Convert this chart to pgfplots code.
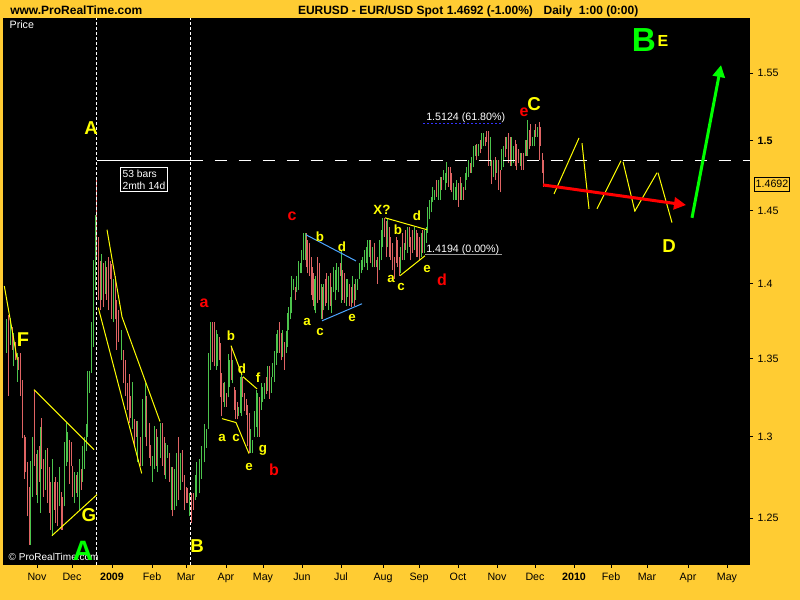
\documentclass[border=0pt]{standalone}
\usepackage{pgfplots}
\pgfplotsset{compat=1.18}
\usepackage{fontspec}
\setmainfont{Liberation Sans}
\usetikzlibrary{arrows.meta}
\definecolor{bgor}{HTML}{FFCC33}
\definecolor{barg}{HTML}{4CC44C}
\definecolor{barr}{HTML}{E06464}
\definecolor{ylw}{HTML}{FFFF00}
\definecolor{grn}{HTML}{00FF00}
\definecolor{rd}{HTML}{FF0000}
\definecolor{lblue}{HTML}{4DA6FF}
\definecolor{dblue}{HTML}{3333FF}
\newcommand{\fs}[1]{\fontsize{#1}{#1}\selectfont}
\begin{document}
\begin{tikzpicture}
\path[use as bounding box] (0,0) rectangle (600pt,450pt);
\fill[bgor] (0,0) rectangle (600pt,450pt);
\begin{axis}[
  at={(2.25pt,26.25pt)}, anchor=south west,
  scale only axis, width=560.25pt, height=410.25pt,
  xmin=3, xmax=750, ymode=log, ymin=1.2219, ymax=1.5917,
  axis background/.style={fill=black},
  axis x line*=bottom, axis y line*=right,
  axis line style={draw=none},
  tick align=outside, major tick length=2.25pt,
  tick style={black, line width=0.6pt},
  xtick={37,72,112,152,186,226,263,302,341,383,419,458,497,535,574,611,647,688,727},
  xticklabels={Nov,Dec,\textbf{2009},Feb,Mar,Apr,May,Jun,Jul,Aug,Sep,Oct,Nov,Dec,\textbf{2010},Feb,Mar,Apr,May},
  ytick={1.25,1.3,1.35,1.4,1.45,1.5,1.55},
  yticklabels={1.25,1.3,1.35,1.4,1.45,\textbf{1.5},1.55},
  minor tick num=0, yminorticks=false, xminorticks=false,
  ticklabel style={font=\fs{8}, black},
  yticklabel style={anchor=west},
  /pgf/number format/assume math mode=true,
  unbounded coords=jump,
]
% green (up) bars
\addplot[barg, line width=0.75pt] coordinates {
(6,1.354)(6,1.376)(6,nan) (10.7,1.359)(10.7,1.377)(10.7,nan) (13.3,1.345)(13.3,1.367)(13.3,nan)
(17.3,1.335)(17.3,1.354)(17.3,nan) (30.7,1.234)(30.7,1.285)(30.7,nan) (32.3,1.263)(32.3,1.300)(32.3,nan)
(37.7,1.259)(37.7,1.292)(37.7,nan) (40.7,1.253)(40.7,1.306)(40.7,nan) (45.3,1.267)(45.3,1.292)(45.3,nan)
(52.3,1.239)(52.3,1.286)(52.3,nan) (59.3,1.257)(59.3,1.281)(59.3,nan) (64.3,1.257)(64.3,1.297)(64.3,nan)
(66,1.282)(66,1.309)(66,nan) (67.7,1.284)(67.7,1.303)(67.7,nan) (74.3,1.259)(74.3,1.278)(74.3,nan)
(77.7,1.263)(77.7,1.278)(77.7,nan) (79.3,1.255)(79.3,1.286)(79.3,nan) (82.7,1.272)(82.7,1.294)(82.7,nan)
(84.3,1.280)(84.3,1.300)(84.3,nan) (86,1.291)(86,1.308)(86,nan) (87.3,1.300)(87.3,1.342)(87.3,nan)
(89.3,1.328)(89.3,1.342)(89.3,nan) (91,1.341)(91,1.374)(91,nan) (93.3,1.358)(93.3,1.416)(93.3,nan)
(95,1.396)(95,1.447)(95,nan) (101.7,1.389)(101.7,1.420)(101.7,nan) (105,1.393)(105,1.415)(105,nan)
(113.3,1.374)(113.3,1.403)(113.3,nan) (121.7,1.349)(121.7,1.369)(121.7,nan) (132.7,1.305)(132.7,1.335)(132.7,nan)
(137.7,1.284)(137.7,1.310)(137.7,nan) (142.7,1.282)(142.7,1.324)(142.7,nan) (145,1.300)(145,1.334)(145,nan)
(152,1.272)(152,1.288)(152,nan) (154,1.280)(154,1.307)(154,nan) (157.7,1.278)(157.7,1.300)(157.7,nan)
(160,1.287)(160,1.309)(160,nan) (165.7,1.274)(165.7,1.296)(165.7,nan) (167.3,1.287)(167.3,1.295)(167.3,nan)
(171,1.255)(171,1.281)(171,nan) (174.3,1.255)(174.3,1.280)(174.3,nan) (176,1.257)(176,1.290)(176,nan)
(180.7,1.267)(180.7,1.290)(180.7,nan) (189.3,1.251)(189.3,1.265)(189.3,nan) (195,1.261)(195,1.276)(195,nan)
(196.7,1.263)(196.7,1.284)(196.7,nan) (199,1.265)(199,1.286)(199,nan) (201.7,1.274)(201.7,1.294)(201.7,nan)
(204,1.284)(204,1.308)(204,nan) (206,1.293)(206,1.305)(206,nan) (208.3,1.305)(208.3,1.354)(208.3,nan)
(210.3,1.343)(210.3,1.374)(210.3,nan) (216,1.343)(216,1.369)(216,nan) (217.3,1.345)(217.3,1.366)(217.3,nan)
(224.3,1.319)(224.3,1.335)(224.3,nan) (228.3,1.325)(228.3,1.353)(228.3,nan) (229.3,1.332)(229.3,1.349)(229.3,nan)
(232.7,1.334)(232.7,1.349)(232.7,nan) (238.3,1.313)(238.3,1.319)(238.3,nan) (240,1.315)(240,1.338)(240,nan)
(241.7,1.313)(241.7,1.341)(241.7,nan) (250.7,1.290)(250.7,1.305)(250.7,nan) (252.3,1.290)(252.3,1.298)(252.3,nan)
(254,1.300)(254,1.316)(254,nan) (256,1.306)(256,1.330)(256,nan) (257.7,1.300)(257.7,1.328)(257.7,nan)
(261,1.317)(261,1.334)(261,nan) (262.7,1.322)(262.7,1.332)(262.7,nan) (264.3,1.324)(264.3,1.334)(264.3,nan)
(267.7,1.329)(267.7,1.345)(267.7,nan) (271,1.328)(271,1.338)(271,nan) (272.7,1.338)(272.7,1.347)(272.7,nan)
(274.3,1.335)(274.3,1.355)(274.3,nan) (276,1.346)(276,1.366)(276,nan) (277.7,1.354)(277.7,1.369)(277.7,nan)
(282.7,1.351)(282.7,1.369)(282.7,nan) (286,1.354)(286,1.368)(286,nan) (287.3,1.358)(287.3,1.380)(287.3,nan)
(288.3,1.369)(288.3,1.384)(288.3,nan) (290,1.376)(290,1.391)(290,nan) (291.7,1.380)(291.7,1.405)(291.7,nan)
(293.3,1.396)(293.3,1.403)(293.3,nan) (296.7,1.394)(296.7,1.405)(296.7,nan) (298.3,1.396)(298.3,1.415)(298.3,nan)
(300,1.407)(300,1.414)(300,nan) (301.7,1.407)(301.7,1.423)(301.7,nan) (303.3,1.416)(303.3,1.435)(303.3,nan)
(305,1.416)(305,1.435)(305,nan) (314.3,1.382)(314.3,1.403)(314.3,nan) (315.7,1.380)(315.7,1.405)(315.7,nan)
(321,1.376)(321,1.400)(321,nan) (323.3,1.382)(323.3,1.400)(323.3,nan) (328.3,1.382)(328.3,1.405)(328.3,nan)
(331.7,1.380)(331.7,1.398)(331.7,nan) (333.3,1.394)(333.3,1.411)(333.3,nan) (335,1.389)(335,1.409)(335,nan)
(336.7,1.396)(336.7,1.414)(336.7,nan) (338.3,1.394)(338.3,1.411)(338.3,nan) (341,1.387)(341,1.423)(341,nan)
(346,1.385)(346,1.403)(346,nan) (347.7,1.391)(347.7,1.403)(347.7,nan) (352.7,1.387)(352.7,1.405)(352.7,nan)
(355.7,1.389)(355.7,1.403)(355.7,nan) (357.3,1.396)(357.3,1.403)(357.3,nan) (359.3,1.403)(359.3,1.414)(359.3,nan)
(361,1.407)(361,1.416)(361,nan) (362.7,1.409)(362.7,1.418)(362.7,nan) (364.3,1.411)(364.3,1.423)(364.3,nan)
(366,1.414)(366,1.425)(366,nan) (367.3,1.409)(367.3,1.430)(367.3,nan) (369,1.418)(369,1.430)(369,nan)
(372.3,1.411)(372.3,1.425)(372.3,nan) (376,1.411)(376,1.416)(376,nan) (379.3,1.409)(379.3,1.430)(379.3,nan)
(381,1.416)(381,1.437)(381,nan) (382.7,1.425)(382.7,1.445)(382.7,nan) (387.3,1.425)(387.3,1.444)(387.3,nan)
(400.7,1.407)(400.7,1.425)(400.7,nan) (404,1.416)(404,1.428)(404,nan) (407.3,1.421)(407.3,1.439)(407.3,nan)
(414.3,1.423)(414.3,1.439)(414.3,nan) (421,1.418)(421,1.435)(421,nan) (424.3,1.421)(424.3,1.437)(424.3,nan)
(426,1.428)(426,1.439)(426,nan) (427.7,1.435)(427.7,1.453)(427.7,nan) (429.3,1.444)(429.3,1.458)(429.3,nan)
(431,1.449)(431,1.460)(431,nan) (432.7,1.456)(432.7,1.467)(432.7,nan) (434.3,1.458)(434.3,1.465)(434.3,nan)
(438.3,1.458)(438.3,1.472)(438.3,nan) (440,1.458)(440,1.474)(440,nan) (443.3,1.472)(443.3,1.479)(443.3,nan)
(445,1.465)(445,1.477)(445,nan) (446.7,1.470)(446.7,1.485)(446.7,nan) (453.3,1.458)(453.3,1.470)(453.3,nan)
(455,1.458)(455,1.467)(455,nan) (456.7,1.458)(456.7,1.472)(456.7,nan) (461.7,1.458)(461.7,1.470)(461.7,nan)
(465,1.465)(465,1.477)(465,nan) (466.7,1.472)(466.7,1.481)(466.7,nan) (468.3,1.474)(468.3,1.486)(468.3,nan)
(471.7,1.477)(471.7,1.488)(471.7,nan) (473.3,1.481)(473.3,1.496)(473.3,nan) (475,1.489)(475,1.497)(475,nan)
(478.3,1.489)(478.3,1.498)(478.3,nan) (481.7,1.494)(481.7,1.506)(481.7,nan) (483.3,1.496)(483.3,1.506)(483.3,nan)
(490,1.482)(490,1.503)(490,nan) (493.3,1.474)(493.3,1.486)(493.3,nan) (496.7,1.477)(496.7,1.486)(496.7,nan)
(501.7,1.479)(501.7,1.494)(501.7,nan) (503.3,1.481)(503.3,1.496)(503.3,nan) (506.7,1.494)(506.7,1.503)(506.7,nan)
(511.7,1.482)(511.7,1.503)(511.7,nan) (513.3,1.484)(513.3,1.496)(513.3,nan) (520,1.482)(520,1.491)(520,nan)
(525,1.489)(525,1.501)(525,nan) (527.3,1.489)(527.3,1.515)(527.3,nan) (532.3,1.496)(532.3,1.503)(532.3,nan)
(534,1.496)(534,1.508)(534,nan) (537.3,1.503)(537.3,1.510)(537.3,nan)
};
% red (down) bars
\addplot[barr, line width=0.75pt] coordinates {
(8.3,1.326)(8.3,1.379)(8.3,nan) (12.7,1.356)(12.7,1.371)(12.7,nan) (15,1.349)(15,1.361)(15,nan)
(18.3,1.343)(18.3,1.351)(18.3,nan) (20.7,1.326)(20.7,1.354)(20.7,nan) (22.7,1.299)(22.7,1.336)(22.7,nan)
(24.3,1.274)(24.3,1.301)(24.3,nan) (25.7,1.278)(25.7,1.300)(25.7,nan) (27.3,1.251)(27.3,1.284)(27.3,nan)
(29.3,1.234)(29.3,1.269)(29.3,nan) (34.3,1.282)(34.3,1.330)(34.3,nan) (36,1.264)(36,1.289)(36,nan)
(39.3,1.272)(39.3,1.294)(39.3,nan) (41.7,1.280)(41.7,1.312)(41.7,nan) (43.3,1.263)(43.3,1.286)(43.3,nan)
(47.3,1.259)(47.3,1.293)(47.3,nan) (49,1.253)(49,1.281)(49,nan) (50.7,1.243)(50.7,1.272)(50.7,nan)
(54,1.255)(54,1.272)(54,nan) (55.7,1.247)(55.7,1.275)(55.7,nan) (57.3,1.245)(57.3,1.272)(57.3,nan)
(61,1.243)(61,1.266)(61,nan) (62.7,1.243)(62.7,1.263)(62.7,nan) (69.3,1.271)(69.3,1.298)(69.3,nan)
(71,1.282)(71,1.297)(71,nan) (72.7,1.263)(72.7,1.282)(72.7,nan) (76,1.265)(76,1.276)(76,nan)
(81,1.267)(81,1.280)(81,nan) (96.7,1.416)(96.7,1.473)(96.7,nan) (98.3,1.389)(98.3,1.432)(98.3,nan)
(100,1.382)(100,1.415)(100,nan) (103.3,1.384)(103.3,1.414)(103.3,nan) (106.7,1.389)(106.7,1.411)(106.7,nan)
(108.3,1.382)(108.3,1.418)(108.3,nan) (110,1.403)(110,1.415)(110,nan) (111.7,1.376)(111.7,1.413)(111.7,nan)
(115,1.376)(115,1.405)(115,nan) (116.7,1.356)(116.7,1.389)(116.7,nan) (118.3,1.361)(118.3,1.382)(118.3,nan)
(123.3,1.334)(123.3,1.356)(123.3,nan) (125.3,1.326)(125.3,1.349)(125.3,nan) (127.3,1.317)(127.3,1.334)(127.3,nan)
(129,1.309)(129,1.340)(129,nan) (130.7,1.312)(130.7,1.326)(130.7,nan) (134.3,1.294)(134.3,1.311)(134.3,nan)
(136,1.300)(136,1.310)(136,nan) (140,1.282)(140,1.300)(140,nan) (146.7,1.294)(146.7,1.326)(146.7,nan)
(149,1.287)(149,1.309)(149,nan) (150.7,1.282)(150.7,1.295)(150.7,nan) (156,1.282)(156,1.305)(156,nan)
(162.3,1.282)(162.3,1.309)(162.3,nan) (164,1.276)(164,1.300)(164,nan) (169.3,1.272)(169.3,1.290)(169.3,nan)
(172.7,1.251)(172.7,1.281)(172.7,nan) (178.3,1.261)(178.3,1.300)(178.3,nan) (182.7,1.272)(182.7,1.292)(182.7,nan)
(184,1.255)(184,1.276)(184,nan) (186,1.259)(186,1.269)(186,nan) (187.7,1.259)(187.7,1.268)(187.7,nan)
(191.7,1.247)(191.7,1.265)(191.7,nan) (193.3,1.255)(193.3,1.265)(193.3,nan) (212.3,1.348)(212.3,1.374)(212.3,nan)
(214.3,1.345)(214.3,1.374)(214.3,nan) (219,1.349)(219,1.364)(219,nan) (220,1.325)(220,1.360)(220,nan)
(221.7,1.313)(221.7,1.341)(221.7,nan) (223.3,1.322)(223.3,1.334)(223.3,nan) (226,1.319)(226,1.328)(226,nan)
(231,1.336)(231,1.358)(231,nan) (234.3,1.317)(234.3,1.332)(234.3,nan) (235.7,1.311)(235.7,1.330)(235.7,nan)
(237,1.311)(237,1.322)(237,nan) (242.7,1.325)(242.7,1.338)(242.7,nan) (244.3,1.316)(244.3,1.328)(244.3,nan)
(246,1.314)(246,1.324)(246,nan) (247.3,1.294)(247.3,1.320)(247.3,nan) (249,1.290)(249,1.315)(249,nan)
(259,1.300)(259,1.325)(259,nan) (266,1.327)(266,1.338)(266,nan) (269.3,1.324)(269.3,1.345)(269.3,nan)
(279.3,1.354)(279.3,1.374)(279.3,nan) (281,1.349)(281,1.367)(281,nan) (284.3,1.343)(284.3,1.361)(284.3,nan)
(295,1.389)(295,1.398)(295,nan) (306,1.411)(306,1.435)(306,nan) (307.7,1.407)(307.7,1.430)(307.7,nan)
(309.3,1.405)(309.3,1.428)(309.3,nan) (311,1.392)(311,1.418)(311,nan) (312.3,1.389)(312.3,1.411)(312.3,nan)
(313.3,1.385)(313.3,1.407)(313.3,nan) (317.3,1.387)(317.3,1.418)(317.3,nan) (319.3,1.389)(319.3,1.414)(319.3,nan)
(322.3,1.376)(322.3,1.398)(322.3,nan) (325,1.385)(325,1.403)(325,nan) (326.7,1.387)(326.7,1.407)(326.7,nan)
(330,1.385)(330,1.407)(330,nan) (340,1.405)(340,1.414)(340,nan) (342.7,1.389)(342.7,1.409)(342.7,nan)
(344.3,1.387)(344.3,1.407)(344.3,nan) (349.3,1.385)(349.3,1.400)(349.3,nan) (351,1.384)(351,1.398)(351,nan)
(354,1.385)(354,1.400)(354,nan) (370.7,1.414)(370.7,1.430)(370.7,nan) (374,1.411)(374,1.428)(374,nan)
(377.7,1.400)(377.7,1.418)(377.7,nan) (384.3,1.432)(384.3,1.445)(384.3,nan) (386,1.418)(386,1.443)(386,nan)
(389,1.418)(389,1.439)(389,nan) (390.7,1.416)(390.7,1.432)(390.7,nan) (392.3,1.409)(392.3,1.428)(392.3,nan)
(394,1.403)(394,1.418)(394,nan) (396,1.414)(396,1.432)(396,nan) (397.3,1.411)(397.3,1.430)(397.3,nan)
(399,1.405)(399,1.418)(399,nan) (402.3,1.416)(402.3,1.435)(402.3,nan) (405.7,1.423)(405.7,1.437)(405.7,nan)
(409,1.425)(409,1.439)(409,nan) (410.7,1.416)(410.7,1.432)(410.7,nan) (412.3,1.421)(412.3,1.437)(412.3,nan)
(416,1.418)(416,1.437)(416,nan) (417.7,1.418)(417.7,1.435)(417.7,nan) (419.3,1.416)(419.3,1.432)(419.3,nan)
(422.7,1.421)(422.7,1.437)(422.7,nan) (436.7,1.460)(436.7,1.472)(436.7,nan) (441.7,1.465)(441.7,1.474)(441.7,nan)
(448.3,1.467)(448.3,1.481)(448.3,nan) (450,1.465)(450,1.481)(450,nan) (451.7,1.463)(451.7,1.477)(451.7,nan)
(458.3,1.453)(458.3,1.470)(458.3,nan) (460,1.458)(460,1.474)(460,nan) (463.3,1.458)(463.3,1.467)(463.3,nan)
(470,1.477)(470,1.484)(470,nan) (476.7,1.486)(476.7,1.498)(476.7,nan) (480,1.491)(480,1.501)(480,nan)
(485,1.496)(485,1.503)(485,nan) (486.7,1.499)(486.7,1.507)(486.7,nan) (488.3,1.482)(488.3,1.507)(488.3,nan)
(491.7,1.469)(491.7,1.486)(491.7,nan) (495,1.472)(495,1.488)(495,nan) (498.3,1.465)(498.3,1.486)(498.3,nan)
(500,1.463)(500,1.479)(500,nan) (505,1.488)(505,1.503)(505,nan) (508.3,1.484)(508.3,1.506)(508.3,nan)
(510,1.482)(510,1.503)(510,nan) (515,1.482)(515,1.501)(515,nan) (516.7,1.479)(516.7,1.498)(516.7,nan)
(518.3,1.484)(518.3,1.494)(518.3,nan) (521.7,1.479)(521.7,1.491)(521.7,nan) (523.3,1.479)(523.3,1.491)(523.3,nan)
(526,1.489)(526,1.501)(526,nan) (529,1.494)(529,1.508)(529,nan) (530.7,1.496)(530.7,1.512)(530.7,nan)
(535.7,1.503)(535.7,1.512)(535.7,nan) (539,1.486)(539,1.514)(539,nan) (540.7,1.496)(540.7,1.510)(540.7,nan)
(542.3,1.477)(542.3,1.491)(542.3,nan) (543.7,1.467)(543.7,1.486)(543.7,nan)
};
% vertical dashed white lines
\addplot[white, line width=0.75pt, dash pattern=on 2.25pt off 1.5pt] coordinates {(96.7,1.2219)(96.7,1.5917)};
\addplot[white, line width=0.75pt, dash pattern=on 2.25pt off 1.5pt] coordinates {(190.7,1.2219)(190.7,1.5917)};
% horizontal white line
\addplot[white, line width=0.75pt] coordinates {(96.7,1.4855)(190.7,1.4855)};
\addplot[white, line width=0.75pt, dash pattern=on 9pt off 9pt] coordinates {(190.7,1.4855)(750,1.4855)};
% fib lines
\addplot[dblue, line width=0.75pt, dash pattern=on 1.5pt off 1.5pt] coordinates {(423,1.5124)(502,1.5124)};
\addplot[gray!80, line width=0.75pt] coordinates {(425,1.4196)(502,1.4196)};
% yellow trend lines
\addplot[ylw, line width=0.75pt] coordinates {(4.3,1.3983)(17.3,1.3494)};
\addplot[ylw, line width=0.75pt] coordinates {(34,1.3300)(94,1.2920)};
\addplot[ylw, line width=0.75pt] coordinates {(52,1.2394)(97,1.2642)};
\addplot[ylw, line width=0.75pt] coordinates {(98.3,1.3837)(141.7,1.2772)};
\addplot[ylw, line width=0.75pt] coordinates {(107,1.4369)(122,1.3776)(160,1.3096)};
\addplot[ylw, line width=0.75pt] coordinates {(222,1.3115)(236,1.3090)(249,1.2895)};
\addplot[ylw, line width=0.75pt] coordinates {(231,1.3586)(242,1.3396)};
\addplot[ylw, line width=0.75pt] coordinates {(243,1.3383)(257,1.3305)};
\addplot[lblue, line width=0.75pt] coordinates {(306,1.4334)(356,1.4154)};
\addplot[lblue, line width=0.75pt] coordinates {(322,1.3750)(362,1.3864)};
\addplot[ylw, line width=0.75pt] coordinates {(385,1.4452)(427,1.4369)};
\addplot[ylw, line width=0.75pt] coordinates {(400,1.4053)(425,1.4189)};
% projected zigzag
\addplot[ylw, line width=0.75pt] coordinates {(554,1.4620)(579,1.5021)};
\addplot[ylw, line width=0.75pt] coordinates {(582,1.4984)(589,1.4515)};
\addplot[ylw, line width=0.75pt] coordinates {(597,1.4515)(621,1.4856)};
\addplot[ylw, line width=0.75pt] coordinates {(623,1.4849)(635,1.4494)};
\addplot[ylw, line width=0.75pt] coordinates {(635,1.4501)(657,1.4770)};
\addplot[ylw, line width=0.75pt] coordinates {(658,1.4770)(672,1.4418)};
% arrows
\addplot[rd, line width=2.25pt, -{Triangle[length=9pt,width=9pt]}] coordinates {(543,1.4684)(686,1.4542)};
\addplot[grn, line width=2.25pt, -{Triangle[length=9pt,width=9pt]}] coordinates {(692,1.4452)(721,1.5560)};
% text
\node[white, font=\fs{8}, anchor=west] at (axis cs:5,1.5864) {Price};
\node[white, font=\fs{7.5}, anchor=west] at (axis cs:4,1.2268) {\textcopyright\ ProRealTime.com};
\node[draw=white, fill=black, text=white, align=left, font=\fontsize{7.7}{9.5}\selectfont, inner sep=1.5pt, line width=0.75pt] at (axis cs:144,1.4720) {53 bars\\2mth 14d};
\node[white, font=\fs{8}, anchor=west, inner sep=0pt] at (axis cs:426,1.5168) {1.5124 (61.80\%)};
\node[white, font=\fs{8}, anchor=west, inner sep=0pt] at (axis cs:426,1.4230) {1.4194 (0.00\%)};
\node[ylw, font=\bfseries\fs{14}] at (axis cs:91,1.5094) {A};
\node[grn, font=\bfseries\fs{21}] at (axis cs:83,1.2303) {A};
\node[ylw, font=\bfseries\fs{15}] at (axis cs:23,1.3625) {F};
\node[ylw, font=\bfseries\fs{14}] at (axis cs:89,1.2515) {G};
\node[ylw, font=\bfseries\fs{14}] at (axis cs:197,1.2334) {B};
\node[ylw, font=\bfseries\fs{14}] at (axis cs:534,1.5271) {C};
\node[rd, font=\bfseries\fs{12}] at (axis cs:524,1.5212) {e};
\node[ylw, font=\bfseries\fs{14}] at (axis cs:669,1.4258) {D};
\node[grn, font=\bfseries\fs{25}] at (axis cs:644,1.5749) {B};
\node[ylw, font=\bfseries\fs{12}] at (axis cs:663,1.5742) {E};
\node[rd, font=\bfseries\fs{12}] at (axis cs:204,1.3864) {a};
\node[rd, font=\bfseries\fs{12}] at (axis cs:274,1.2797) {b};
\node[rd, font=\bfseries\fs{12}] at (axis cs:292,1.4466) {c};
\node[rd, font=\bfseries\fs{12}] at (axis cs:442,1.4026) {d};
\begin{scope}[every node/.style={ylw, font=\bfseries\fs{10}}]
\node at (axis cs:222,1.2995) {a};
\node at (axis cs:236,1.2995) {c};
\node at (axis cs:231,1.3651) {b};
\node at (axis cs:242,1.3435) {d};
\node at (axis cs:258,1.3376) {f};
\node at (axis cs:263,1.2914) {g};
\node at (axis cs:249,1.2809) {e};
\node at (axis cs:307,1.3743) {a};
\node at (axis cs:320,1.3678) {c};
\node at (axis cs:352,1.3770) {e};
\node at (axis cs:320,1.4320) {b};
\node at (axis cs:342,1.4251) {d};
\node at (axis cs:382,1.4508) {X?};
\node at (axis cs:398,1.4369) {b};
\node at (axis cs:417,1.4466) {d};
\node at (axis cs:391,1.4033) {a};
\node at (axis cs:401,1.3979) {c};
\node at (axis cs:427,1.4100) {e};
\end{scope}
\end{axis}
% header and price box
\node[anchor=base west, font=\bfseries\fs{9}, inner sep=0pt] at (7.5pt,439.3pt) {www.ProRealTime.com};
\node[anchor=base west, font=\bfseries\fs{9}, inner sep=0pt] at (223.3pt,439.3pt) {EURUSD - EUR/USD Spot};
\node[anchor=base west, font=\bfseries\fs{9}, inner sep=0pt] at (335pt,439.3pt) {1.4692 (-1.00\%)};
\node[anchor=base west, font=\bfseries\fs{9}, inner sep=0pt] at (407.5pt,439.3pt) {Daily\ \ 1:00 (0:00)};
\node[draw=black, fill=bgor, line width=0.6pt, font=\fs{8}, inner sep=1pt, minimum height=10.5pt] at (579pt,312pt) {1.4692};
\end{tikzpicture}
\end{document}
